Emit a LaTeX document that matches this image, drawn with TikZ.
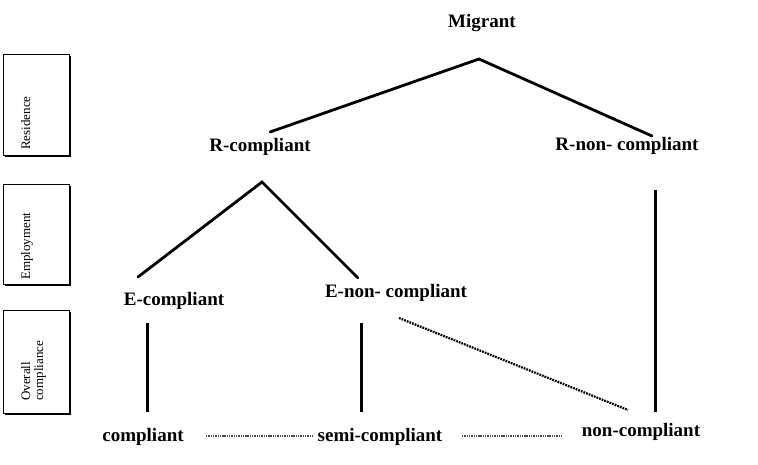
\documentclass[tikz,border=0pt]{standalone}
\usepackage{fontspec}
\setmainfont{Liberation Serif}
\begin{document}
\begin{tikzpicture}[x=1pt,y=-1pt,
  lbl/.style={font=\fontsize{19}{22}\selectfont\bfseries, inner sep=0pt, anchor=base},
  side/.style={font=\fontsize{13}{13}\selectfont, inner sep=0pt, rotate=90, anchor=north west, align=left},
  sidebox/.style={draw=black, line width=0.8pt, fill=white},
  tree/.style={line width=2.8pt, line cap=round},
  vert/.style={line width=3pt},
  dotdiag/.style={line width=2.2pt, dash pattern=on 1.8pt off 1pt},
  dothor/.style={line width=2pt, black!70, dash pattern=on 1.4pt off 0.9pt}]
\useasboundingbox (0,0) rectangle (758,464);
% side boxes with shadow
\fill[black] (5,56) rectangle (71,157);
\draw[sidebox] (3,54) rectangle (69,155);
\fill[black] (5,186) rectangle (71,286);
\draw[sidebox] (3,184) rectangle (69,284);
\fill[black] (5,312) rectangle (71,415);
\draw[sidebox] (3,310) rectangle (69,413);
\node[side] (res) at (21,150) {Residence};
\node[side] (emp) at (21,280) {Employment};
\node[side] (ovc) at (21,401) {Overall\\compliance};
% labels
\node[lbl] (mig) at (482,27) {Migrant};
\node[lbl] (rc) at (260,151) {R-compliant};
\node[lbl] (rnc) at (627,150) {R-non- compliant};
\node[lbl] (ec) at (174,305) {E-compliant};
\node[lbl] (enc) at (396,297) {E-non- compliant};
\node[lbl] (c) at (143,441) {compliant};
\node[lbl] (sc) at (380,441) {semi-compliant};
\node[lbl] (nc) at (641,436) {non-compliant};
% coordinates
\coordinate (mtop) at (479,59);
\coordinate (rcend) at (270,132);
\coordinate (rncend) at (652,136);
\coordinate (rtop) at (262,182);
\coordinate (ecend) at (138,277);
\coordinate (encend) at (358,278);
\coordinate (v1a) at (147,323);
\coordinate (v1b) at (147,412);
\coordinate (v2a) at (361,323);
\coordinate (v2b) at (361,412);
\coordinate (v3a) at (655,190);
\coordinate (v3b) at (655,412);
\coordinate (da) at (399,318);
\coordinate (db) at (628,410);
\coordinate (h1a) at (206,436);
\coordinate (h1b) at (312,436);
\coordinate (h2a) at (462,436);
\coordinate (h2b) at (563,436);
% connectors
\draw[tree] (rcend) -- (mtop) -- (rncend);
\draw[tree] (ecend) -- (rtop) -- (encend);
\draw[vert] (v1a) -- (v1b);
\draw[vert] (v2a) -- (v2b);
\draw[vert] (v3a) -- (v3b);
\draw[dotdiag] (da) -- (db);
\draw[dothor] (h1a) -- (h1b);
\draw[dothor] (h2a) -- (h2b);
\end{tikzpicture}
\end{document}
